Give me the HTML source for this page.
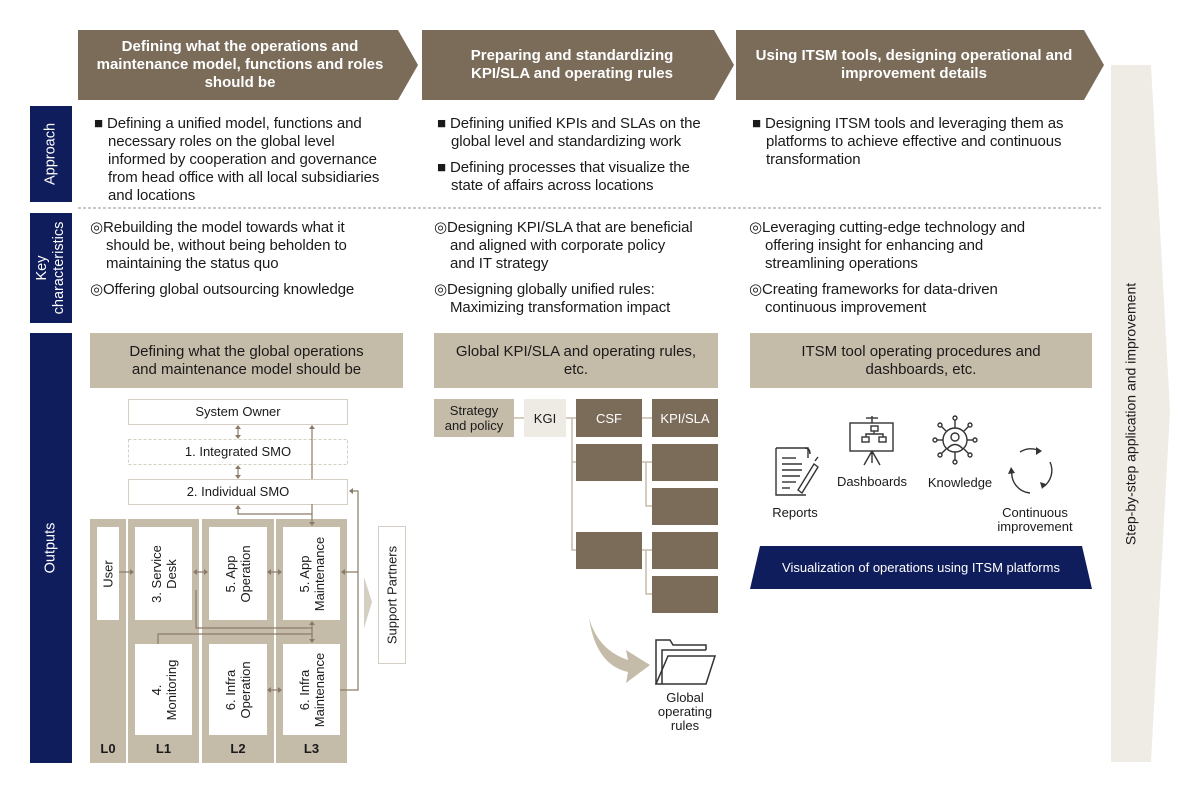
<!DOCTYPE html>
<html><head><meta charset="utf-8"><style>
body{margin:0;width:1200px;height:793px;background:#fff;font-family:"Liberation Sans","DejaVu Sans",sans-serif;position:relative;overflow:hidden;color:#1a1a1a}
.a{position:absolute}
.t{font-size:15px;line-height:18px;letter-spacing:-0.1px;white-space:nowrap}
.nav{background:#0f1d5c;color:#fff;font-size:14.5px}
.vl{position:absolute;left:50%;top:50%;transform:translate(-50%,-50%) rotate(-90deg);white-space:nowrap;text-align:center;line-height:17px}
.bh{background:#c5bba9;font-size:15px;line-height:18px;text-align:center;display:flex;align-items:center;justify-content:center}
.wb{background:#fff;position:absolute}
.wl{position:absolute;left:50%;top:50%;transform:translate(-50%,-50%) rotate(-90deg);white-space:nowrap;text-align:center;font-size:13px;line-height:15px}
.lb{position:absolute;font-size:13px;font-weight:bold;text-align:center}
.ind{padding-left:14px}
.ind2{padding-left:16px}
</style></head><body>
<svg class="a" style="left:0;top:0" width="1200" height="793">
<polygon points="78,30 398,30 418,65 398,100 78,100" fill="#7b6c5a"/>
<polygon points="422,30 714,30 734,65 714,100 422,100" fill="#7b6c5a"/>
<polygon points="736,30 1084,30 1104,65 1084,100 736,100" fill="#7b6c5a"/>
<polygon points="1111,65 1151,65 1170,410 1151,762 1111,762" fill="#efece6"/>
<line x1="78" y1="208" x2="1102" y2="208" stroke="#a9a9a9" stroke-width="1.3" stroke-dasharray="3,2"/>
<rect x="90" y="519" width="36" height="244" fill="#c5bba9"/>
<rect x="128" y="519" width="71" height="244" fill="#c5bba9"/>
<rect x="202" y="519" width="72" height="244" fill="#c5bba9"/>
<rect x="276" y="519" width="71" height="244" fill="#c5bba9"/>
<rect x="128.5" y="399.5" width="219" height="25" fill="#fff" stroke="#d5cec2"/>
<rect x="128.5" y="439.5" width="219" height="25" fill="#fff" stroke="#d5cec2" stroke-dasharray="3,2"/>
<rect x="128.5" y="479.5" width="219" height="25" fill="#fff" stroke="#d5cec2"/>
<rect x="378.5" y="526.5" width="27" height="137" fill="#fff" stroke="#d5cec2"/>
<polygon points="364,577 372,602 364,628" fill="#d5cec2"/>
<g stroke="#8a7b68" stroke-width="1.2" fill="none">
<line x1="238" y1="427" x2="238" y2="437"/><line x1="238" y1="467" x2="238" y2="477"/>
<line x1="312" y1="427" x2="312" y2="479"/>
<polyline points="238,507 238,514 312,514"/><line x1="312" y1="504" x2="312" y2="523"/>
<line x1="119" y1="572" x2="133" y2="572"/><line x1="194" y1="572" x2="207" y2="572"/><line x1="268" y1="572" x2="281" y2="572"/>
<polyline points="343,572 358,572 358,491 350,491"/><polyline points="340,690 358,690 358,572"/>
<line x1="268" y1="690" x2="281" y2="690"/>
<polyline points="196,590 196,628 312,628"/><line x1="312" y1="623" x2="312" y2="642"/>
<polyline points="158,644 158,634 312,634"/>
</g>
<g fill="#8a7b68">
<polygon points="238,425 235,429 241,429"/><polygon points="238,439 235,435 241,435"/>
<polygon points="238,465 235,469 241,469"/><polygon points="238,479 235,475 241,475"/>
<polygon points="312,425 309,429 315,429"/><polygon points="238,505 235,509 241,509"/>
<polygon points="312,526 309,522 315,522"/><polygon points="134,572 130,569 130,575"/>
<polygon points="193,572 197,569 197,575"/><polygon points="208,572 204,569 204,575"/>
<polygon points="267,572 271,569 271,575"/><polygon points="282,572 278,569 278,575"/>
<polygon points="341,572 345,569 345,575"/><polygon points="349,491 353,488 353,494"/>
<polygon points="267,690 271,687 271,693"/><polygon points="282,690 278,687 278,693"/>
<polygon points="312,621 309,625 315,625"/><polygon points="312,643 309,639 315,639"/>
</g>
<g stroke="#c5bba9" stroke-width="1.5" fill="none">
<line x1="514" y1="418" x2="524" y2="418"/><line x1="566" y1="418" x2="576" y2="418"/><line x1="642" y1="418" x2="652" y2="418"/>
<polyline points="572,418 572,550 576,550"/><line x1="572" y1="462" x2="576" y2="462"/>
<polyline points="646,462 646,506 652,506"/><line x1="642" y1="462" x2="652" y2="462"/>
<polyline points="646,550 646,594 652,594"/><line x1="642" y1="550" x2="652" y2="550"/>
</g>
<g fill="#7b6c5a">
<rect x="576" y="399" width="66" height="38"/><rect x="652" y="399" width="66" height="38"/>
<rect x="576" y="444" width="66" height="37"/><rect x="652" y="444" width="66" height="37"/>
<rect x="652" y="488" width="66" height="37"/>
<rect x="576" y="532" width="66" height="37"/><rect x="652" y="532" width="66" height="37"/>
<rect x="652" y="576" width="66" height="37"/>
</g>
<rect x="434" y="399" width="80" height="38" fill="#c5bba9"/>
<rect x="524" y="399" width="42" height="38" fill="#eeeae4"/>
<path d="M589,618 Q598,650 628,660 L626,650 L650,665 L626,683 L628,672 Q596,665 589,618Z" fill="#c5bba9"/>
<g stroke="#333" stroke-width="1.5" fill="none">
<path d="M656,684 L656,640 L670,640 L673,645 L706,645 L706,650"/>
<path d="M662,684 L662,650 L706,650"/>
<path d="M656,684 L668,656 L715,656 L706,684 Z"/>
</g>
<g stroke="#333" stroke-width="1.4" fill="none">
<path d="M776,448 L808,448 L808,458 M776,448 L776,495 L806,495"/>
<path d="M805,448 q5,0 5,6"/>
<line x1="782" y1="458" x2="796" y2="458"/><line x1="782" y1="464" x2="802" y2="464"/><line x1="782" y1="470" x2="802" y2="470"/><line x1="782" y1="476" x2="800" y2="476"/><line x1="782" y1="482" x2="796" y2="482"/><line x1="782" y1="488" x2="790" y2="488"/>
<path d="M798,490 L814,464 L818,467 L802,493 Z"/><line x1="815" y1="461" x2="818" y2="457"/>
<rect x="850" y="423" width="43" height="28"/><line x1="872" y1="416" x2="872" y2="423"/><line x1="866" y1="418" x2="878" y2="418"/>
<path d="M872,451 L864,465 M872,451 L880,465 M872,451 L872,463"/>
<rect x="871" y="426" width="7" height="5"/><rect x="862" y="437" width="7" height="5"/><rect x="879" y="437" width="7" height="5"/>
<path d="M874,431 L874,434 L866,434 L866,437 M874,434 L883,434 L883,437"/>
<circle cx="955" cy="440" r="12"/><circle cx="955" cy="437" r="4"/><path d="M947,449 q8,-9 16,0"/>
<line x1="955" y1="428" x2="955" y2="420"/><circle cx="955" cy="418" r="2"/>
<line x1="955" y1="452" x2="955" y2="460"/><circle cx="955" cy="462" r="2"/>
<line x1="943" y1="440" x2="937" y2="440"/><circle cx="935" cy="440" r="2"/>
<line x1="967" y1="440" x2="973" y2="440"/><circle cx="975" cy="440" r="2"/>
<line x1="946" y1="431" x2="941" y2="426"/><circle cx="940" cy="425" r="2"/>
<line x1="964" y1="431" x2="969" y2="426"/><circle cx="970" cy="425" r="2"/>
<line x1="946" y1="449" x2="941" y2="454"/><circle cx="940" cy="455" r="2"/>
<line x1="964" y1="449" x2="969" y2="454"/><circle cx="970" cy="455" r="2"/>
<path d="M1020,452 A20,20 0 0 1 1040,451"/><path d="M1050,462 A20,20 0 0 1 1043,487"/><path d="M1030,493 A20,20 0 0 1 1012,470"/>
</g>
<g fill="#333"><polygon points="1042,451 1036,447 1036,455"/><polygon points="1042,489 1040,482 1046,484"/><polygon points="1011,467 1008,474 1015,473"/></g>
<polygon points="760,546 1082,546 1092,589 750,589" fill="#0f1d5c"/>
</svg>

<div class="a" style="left:80px;top:38px;width:320px;text-align:center;color:#fff;font-weight:bold;font-size:15px;line-height:18px;white-space:nowrap">Defining what the operations and<br>maintenance model, functions and roles<br>should be</div>
<div class="a" style="left:422px;top:47px;width:300px;text-align:center;color:#fff;font-weight:bold;font-size:15px;line-height:18px;white-space:nowrap">Preparing and standardizing<br>KPI/SLA and operating rules</div>
<div class="a" style="left:736px;top:47px;width:356px;text-align:center;color:#fff;font-weight:bold;font-size:15px;line-height:18px;white-space:nowrap">Using ITSM tools, designing operational and<br>improvement details</div>

<div class="a nav" style="left:30px;top:106px;width:42px;height:96px"><div class="vl">Approach</div></div>
<div class="a nav" style="left:30px;top:213px;width:42px;height:110px"><div class="vl">Key<br>characteristics</div></div>
<div class="a nav" style="left:30px;top:333px;width:42px;height:430px"><div class="vl">Outputs</div></div>

<div class="a t" style="left:94px;top:115px">■ Defining a unified model, functions and<div class="ind">necessary roles on the global level<br>informed by cooperation and governance<br>from head office with all local subsidiaries<br>and locations</div></div>
<div class="a t" style="left:437px;top:115px">■ Defining unified KPIs and SLAs on the<div class="ind">global level and standardizing work</div><div style="margin-top:8px">■ Defining processes that visualize the</div><div class="ind">state of affairs across locations</div></div>
<div class="a t" style="left:752px;top:115px">■ Designing ITSM tools and leveraging them as<div class="ind">platforms to achieve effective and continuous<br>transformation</div></div>

<div class="a t" style="left:90px;top:219px">◎Rebuilding the model towards what it<div class="ind2">should be, without being beholden to<br>maintaining the status quo</div><div style="margin-top:8px">◎Offering global outsourcing knowledge</div></div>
<div class="a t" style="left:434px;top:219px">◎Designing KPI/SLA that are beneficial<div class="ind2">and aligned with corporate policy<br>and IT strategy</div><div style="margin-top:8px">◎Designing globally unified rules:</div><div class="ind2">Maximizing transformation impact</div></div>
<div class="a t" style="left:749px;top:219px">◎Leveraging cutting-edge technology and<div class="ind2">offering insight for enhancing and<br>streamlining operations</div><div style="margin-top:8px">◎Creating frameworks for data-driven</div><div class="ind2">continuous improvement</div></div>

<div class="a bh" style="left:90px;top:333px;width:313px;height:55px">Defining what the global operations<br>and maintenance model should be</div>
<div class="a bh" style="left:434px;top:333px;width:284px;height:55px">Global KPI/SLA and operating rules,<br>etc.</div>
<div class="a bh" style="left:750px;top:333px;width:342px;height:55px">ITSM tool operating procedures and<br>dashboards, etc.</div>

<div class="a" style="left:128px;top:404px;width:220px;text-align:center;font-size:13px">System Owner</div>
<div class="a" style="left:128px;top:444px;width:220px;text-align:center;font-size:13px">1. Integrated SMO</div>
<div class="a" style="left:128px;top:484px;width:220px;text-align:center;font-size:13px">2. Individual SMO</div>
<div class="wb" style="left:97px;top:527px;width:22px;height:93px"><div class="wl">User</div></div>
<div class="wb" style="left:135px;top:527px;width:57px;height:93px"><div class="wl">3. Service<br>Desk</div></div>
<div class="wb" style="left:209px;top:527px;width:58px;height:93px"><div class="wl">5. App<br>Operation</div></div>
<div class="wb" style="left:283px;top:527px;width:57px;height:93px"><div class="wl">5. App<br>Maintenance</div></div>
<div class="wb" style="left:135px;top:644px;width:57px;height:91px"><div class="wl">4.<br>Monitoring</div></div>
<div class="wb" style="left:209px;top:644px;width:58px;height:91px"><div class="wl">6. Infra<br>Operation</div></div>
<div class="wb" style="left:283px;top:644px;width:57px;height:91px"><div class="wl">6. Infra<br>Maintenance</div></div>
<div class="a" style="left:378px;top:526px;width:28px;height:138px"><div class="wl">Support Partners</div></div>
<div class="lb" style="left:90px;top:741px;width:36px">L0</div>
<div class="lb" style="left:128px;top:741px;width:71px">L1</div>
<div class="lb" style="left:202px;top:741px;width:72px">L2</div>
<div class="lb" style="left:276px;top:741px;width:71px">L3</div>

<div class="a" style="left:434px;top:403px;width:80px;text-align:center;font-size:13px;line-height:15px">Strategy<br>and policy</div>
<div class="a" style="left:524px;top:411px;width:42px;text-align:center;font-size:13px">KGI</div>
<div class="a" style="left:576px;top:411px;width:66px;text-align:center;font-size:13px;color:#fff">CSF</div>
<div class="a" style="left:652px;top:411px;width:66px;text-align:center;font-size:13px;color:#fff">KPI/SLA</div>
<div class="a" style="left:640px;top:691px;width:90px;text-align:center;font-size:13px;line-height:14px">Global<br>operating<br>rules</div>

<div class="a" style="left:760px;top:505px;width:70px;text-align:center;font-size:13px">Reports</div>
<div class="a" style="left:832px;top:474px;width:80px;text-align:center;font-size:13px">Dashboards</div>
<div class="a" style="left:920px;top:475px;width:80px;text-align:center;font-size:13px">Knowledge</div>
<div class="a" style="left:990px;top:506px;width:90px;text-align:center;font-size:13px;line-height:14px">Continuous<br>improvement</div>
<div class="a" style="left:750px;top:560px;width:342px;text-align:center;font-size:13px;color:#fff">Visualization of operations using ITSM platforms</div>

<div class="a" style="left:1111px;top:65px;width:40px;height:697px"><div class="vl" style="font-size:14px">Step-by-step application and improvement</div></div>
</body></html>
